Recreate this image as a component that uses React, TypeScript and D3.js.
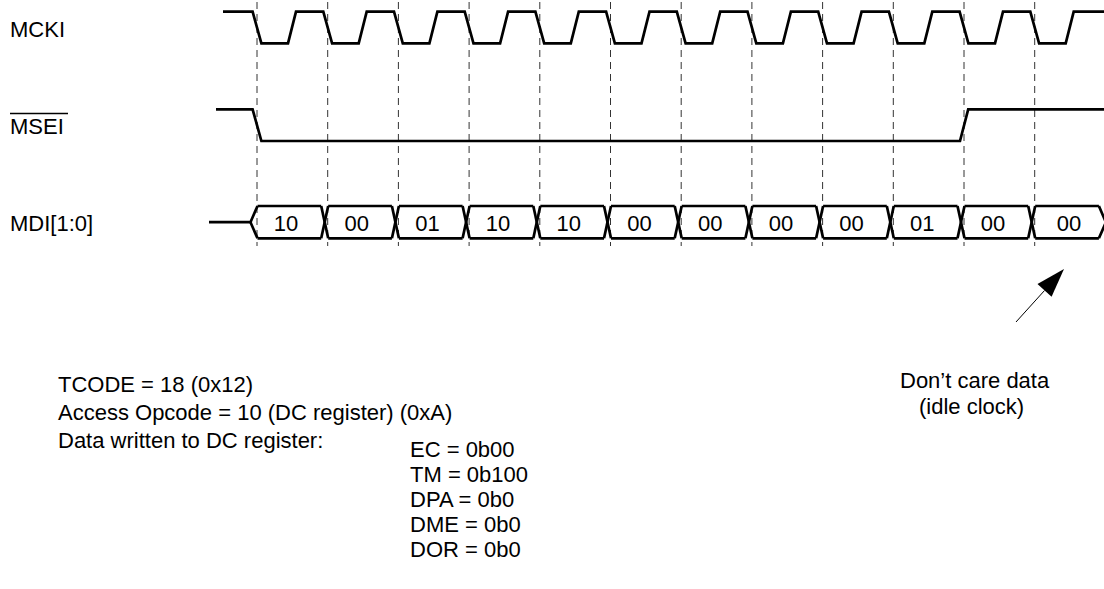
import React from "react";
import * as d3 from "d3";

// ---- data ----
const signalNames = ["MCKI", "MSEI", "MDI[1:0]"];
const cycleCount = 12; // number of clock cycles shown (dashed reference lines)
const mdiValues = ["10", "00", "01", "10", "10", "00", "00", "00", "00", "01", "00", "00"];
const mseiFallCycle = 0;
const mseiRiseCycle = 10;
const noteLines = ["TCODE = 18 (0x12)", "Access Opcode = 10 (DC register) (0xA)", "Data written to DC register:"];
const fieldLines = ["EC = 0b00", "TM = 0b100", "DPA = 0b0", "DME = 0b0", "DOR = 0b0"];
const annotationLines = ["Don\u2019t care data", "(idle clock)"];

const W = 1104;
const H = 589;
const FONT = "Arial, 'Liberation Sans', Helvetica, sans-serif";
const FS = 22;

export default function App() {
  // time scale: cycle index -> x
  const x = d3.scaleLinear().domain([0, cycleCount]).range([257, 257 + 70.7 * cycleCount]);
  const cycles = d3.range(cycleCount);

  // MCKI
  const ckHi = 11.7, ckLo = 43.3;
  const ckPts: [number, number][] = [[223, ckHi]];
  cycles.forEach((i) => {
    const d = x(i);
    ckPts.push([d - 4.4, ckHi], [d + 4.4, ckLo], [d + 31, ckLo], [d + 39, ckHi]);
  });
  ckPts.push([W + 5, ckHi]);

  // MSEI
  const seHi = 109.3, seLo = 141;
  const f = x(mseiFallCycle), r = x(mseiRiseCycle);
  const sePts: [number, number][] = [
    [216, seHi], [f - 4.4, seHi], [f + 4.4, seLo], [r - 4, seLo], [r + 4.2, seHi], [W + 5, seHi],
  ];

  const line = d3.line();

  // MDI bus
  const busC = 222.2, busT = 206, busB = 238.3, hw = 3.5;
  const tPos = d3.range(cycleCount + 1).map((i) => x(i) - 3);
  const busTop: [number, number][] = [];
  const busBot: [number, number][] = [];
  mdiValues.forEach((_, i) => {
    const a = tPos[i], b = tPos[i + 1];
    busTop.push([a + hw, busT], [b - hw, busT]);
    busBot.push([a + hw, busB], [b - hw, busB]);
  });
  const crossings = d3.range(1, cycleCount).map((i) => {
    const t = tPos[i];
    return [
      [[t - hw, busT], [t + hw, busB]],
      [[t - hw, busB], [t + hw, busT]],
    ] as [number, number][][];
  });
  const t0 = tPos[0];
  const tEnd = tPos[cycleCount];

  // arrow
  const arrowTo: [number, number] = [1064, 269];
  const arrowFrom: [number, number] = [1016, 322];
  const ang = Math.atan2(arrowTo[1] - arrowFrom[1], arrowTo[0] - arrowFrom[0]);
  const ahL = 29, ahW = 9.5;
  const base: [number, number] = [arrowTo[0] - ahL * Math.cos(ang), arrowTo[1] - ahL * Math.sin(ang)];
  const perp = [-Math.sin(ang), Math.cos(ang)];
  const head: [number, number][] = [
    arrowTo,
    [base[0] + perp[0] * ahW, base[1] + perp[1] * ahW],
    [base[0] - perp[0] * ahW, base[1] - perp[1] * ahW],
  ];

  const labelX = 10;
  const labelBase = [37, 133.5, 231];

  return (
    <svg width={W} height={H} style={{ position: "absolute", left: 0, top: 0, background: "#fff" }}>
      {/* dashed cycle lines */}
      {cycles.map((i) => (
        <line key={"d" + i} x1={x(i)} x2={x(i)} y1={2} y2={246} stroke="#333" strokeWidth={1} strokeDasharray="7,5" />
      ))}

      {/* labels */}
      {signalNames.map((n, i) => (
        <text key={n} x={labelX} y={labelBase[i]} fontFamily={FONT} fontSize={FS} fill="#000">
          {n}
        </text>
      ))}
      <line x1={labelX} x2={labelX + 58} y1={113.5} y2={113.5} stroke="#000" strokeWidth={1.5} />

      {/* MCKI */}
      <path d={line(ckPts) || ""} fill="none" stroke="#000" strokeWidth={2.7} strokeLinejoin="miter" />
      {/* MSEI */}
      <path d={line(sePts) || ""} fill="none" stroke="#000" strokeWidth={2.7} />

      {/* MDI */}
      <path d={line([[209, busC], [t0 - hw, busC], [t0 + hw, busT]]) || ""} fill="none" stroke="#000" strokeWidth={2.7} />
      <path d={line([[t0 - hw, busC], [t0 + hw, busB]]) || ""} fill="none" stroke="#000" strokeWidth={2.7} />
      {mdiValues.map((_, i) => (
        <g key={"seg" + i}>
          <line x1={busTop[2 * i][0]} y1={busT} x2={busTop[2 * i + 1][0]} y2={busT} stroke="#000" strokeWidth={2.7} />
          <line x1={busBot[2 * i][0]} y1={busB} x2={busBot[2 * i + 1][0]} y2={busB} stroke="#000" strokeWidth={2.7} />
        </g>
      ))}
      {crossings.map((c, i) => (
        <g key={"x" + i}>
          <path d={line(c[0]) || ""} stroke="#000" strokeWidth={2.7} fill="none" />
          <path d={line(c[1]) || ""} stroke="#000" strokeWidth={2.7} fill="none" />
        </g>
      ))}
      <path d={line([[tEnd - hw, busT], [tEnd + hw, busC], [tEnd - hw, busB]]) || ""} fill="none" stroke="#000" strokeWidth={2.7} />

      {mdiValues.map((v, i) => {
        const cx = i === cycleCount - 1 ? (tPos[i] + tPos[i + 1]) / 2 + 2 : x(i) + 29;
        return (
          <text key={"v" + i} x={cx} y={231.3} textAnchor="middle" fontFamily={FONT} fontSize={FS} fill="#000">
            {v}
          </text>
        );
      })}

      {/* arrow */}
      <line x1={arrowFrom[0]} y1={arrowFrom[1]} x2={base[0]} y2={base[1]} stroke="#000" strokeWidth={1} />
      <path d={(line(head) || "") + "Z"} fill="#000" />

      {annotationLines.map((t, i) => (
        <text key={t} x={i === 0 ? 900 : 919} y={388 + 26 * i} fontFamily={FONT} fontSize={FS} fill="#000">
          {t}
        </text>
      ))}

      {noteLines.map((t, i) => (
        <text key={t} x={58} y={392 + 28.2 * i} fontFamily={FONT} fontSize={FS} fill="#000">
          {t}
        </text>
      ))}
      {fieldLines.map((t, i) => (
        <text key={t} x={410} y={456.5 + 25 * i} fontFamily={FONT} fontSize={FS} fill="#000">
          {t}
        </text>
      ))}
    </svg>
  );
}
